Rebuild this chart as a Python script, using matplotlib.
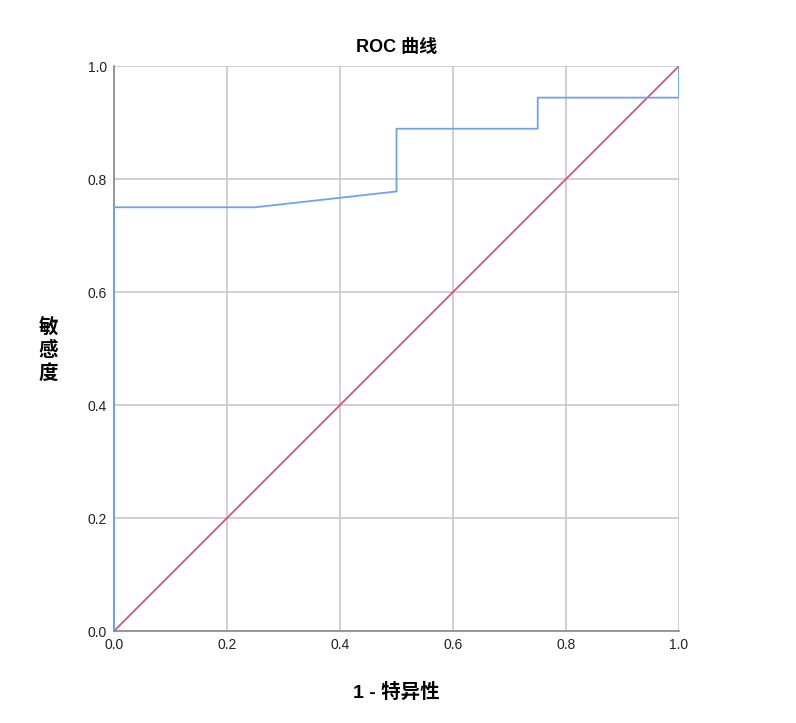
import matplotlib
matplotlib.use('Agg')
import matplotlib.pyplot as plt

plt.rcParams['font.family'] = ['Liberation Sans', 'Noto Sans CJK SC', 'DejaVu Sans']

# ROC curve points (1 - specificity, sensitivity)
fpr = [0.0, 0.0, 0.25, 0.5, 0.5, 0.75, 0.75, 1.0, 1.0]
tpr = [0.0, 0.75, 0.75, 0.778, 0.889, 0.889, 0.944, 0.944, 1.0]
ref = [0.0, 1.0]
ticks = [0.0, 0.2, 0.4, 0.6, 0.8, 1.0]
tick_labels = ['0.0', '0.2', '0.4', '0.6', '0.8', '1.0']

fig = plt.figure(figsize=(7.96, 7.23), dpi=100)
ax = fig.add_axes([0.1432, 0.1272, 0.7098, 0.7815])

ax.plot(ref, ref, color='#dc4770', lw=1.2, zorder=3)
ax.plot(fpr, tpr, color='#72a3e3', lw=1.3, zorder=4)

ax.set_xlim(0, 1)
ax.set_ylim(0, 1)
ax.set_xticks(ticks)
ax.set_xticklabels(tick_labels)
ax.set_yticks(ticks)
ax.set_yticklabels(tick_labels)
ax.tick_params(length=0, labelsize=10, pad=5, colors='#222222')
ax.grid(True, color='#c8c8c8', lw=1.2)
ax.set_axisbelow(True)
for s in ['top', 'right']:
    ax.spines[s].set_visible(False)
for s in ['left', 'bottom']:
    ax.spines[s].set_color('#888888')
    ax.spines[s].set_linewidth(1.2)

ax.set_title('ROC 曲线', fontsize=13, fontweight='bold', pad=10)
ax.set_xlabel('1 - 特异性', fontsize=14, fontweight='bold', labelpad=22)
fig.text(0.061, 0.515, '敏\n感\n度', fontsize=14, fontweight='bold',
         ha='center', va='center', linespacing=1.25)

fig.savefig('out.png', dpi=100)
